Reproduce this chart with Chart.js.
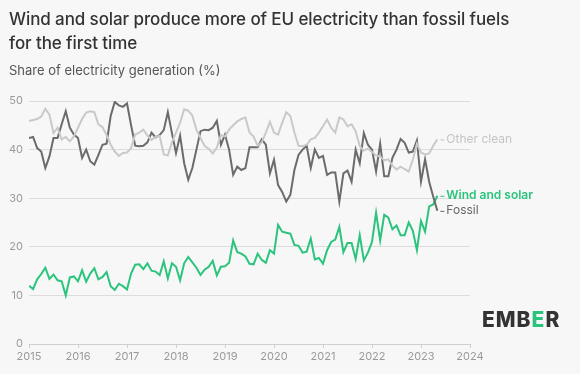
<!DOCTYPE html>
<html>
<head>
<meta charset="utf-8">
<script src="https://cdn.jsdelivr.net/npm/chart.js@4/dist/chart.umd.min.js"></script>
<style>
  html, body { margin: 0; padding: 0; background: #f7f7f7; }
  #wrap { position: relative; width: 580px; height: 374px; overflow: hidden; }
  #title { position: absolute; left: 9px; top: 7px; font: 500 17px Inter, sans-serif; line-height: 24px; color: #333; letter-spacing: -0.1px; }
  #subtitle { position: absolute; left: 9px; top: 62px; font: 400 13px Inter, sans-serif; color: #555; }
  #logo { position: absolute; left: 482px; top: 307px; font: 800 21px Inter, sans-serif; color: #333; letter-spacing: 1px; }
  #logo span { color: #2bc47d; }
  canvas { position: absolute; left: 0; top: 0; }
</style>
</head>
<body>
<div id="wrap">
  <canvas id="chart" width="580" height="374"></canvas>
  <div id="title">Wind and solar produce more of EU electricity than fossil fuels<br>for the first time</div>
  <div id="subtitle">Share of electricity generation (%)</div>
  <div id="logo">EMB<span>E</span>R</div>
</div>
<script>
// monthly shares, Jan 2015 - May 2023
const startYear = 2015;
const yearTicks = [2015, 2016, 2017, 2018, 2019, 2020, 2021, 2022, 2023, 2024];

const otherClean = [
  45.9, 46.1, 46.3, 46.8, 48.4, 47.2, 43.4, 44.5, 42.1, 42.6,
  41.7, 42.7, 44.5, 46.3, 47.6, 47.9, 47.7, 45.2, 44.6, 43.0,
  41.0, 39.6, 38.7, 39.3, 39.4, 40.3, 43.1, 43.5, 44.1, 42.9,
  42.0, 42.6, 42.8, 39.0, 38.8, 41.5, 43.5, 45.5, 48.3, 48.0,
  47.0, 44.1, 42.4, 40.8, 40.2, 39.2, 40.4, 43.0, 42.7, 44.1,
  45.0, 45.8, 46.3, 46.6, 43.5, 42.7, 40.8, 41.5, 43.5, 45.7,
  43.5, 43.1, 45.5, 47.7, 46.9, 43.5, 40.8, 40.7, 41.0, 42.1,
  42.4, 43.5, 44.8, 46.2, 44.5, 43.5, 46.6, 46.2, 44.8, 45.2,
  43.8, 40.7, 39.8, 40.2, 39.5, 38.8, 38.6, 37.8, 38.0, 36.7,
  35.9, 36.5, 36.0, 35.5, 37.9, 41.2, 39.4, 39.0, 39.2, 40.8,
  42.1
];

const fossil = [
  42.4, 42.6, 40.3, 39.6, 36.2, 38.6, 42.4, 42.4, 45.2, 47.9,
  44.5, 43.1, 42.4, 38.3, 40.0, 37.6, 36.9, 38.9, 41.0, 41.2,
  46.9, 49.8, 49.1, 48.8, 49.5, 45.0, 40.8, 40.7, 40.8, 41.5,
  43.5, 42.5, 43.0, 44.0, 47.7, 43.4, 39.3, 42.9, 37.2, 33.8,
  36.2, 40.0, 43.8, 44.1, 44.0, 44.5, 45.9, 41.0, 43.1, 40.0,
  34.8, 36.5, 35.8, 36.2, 40.5, 40.5, 40.5, 42.1, 41.0, 35.1,
  37.9, 32.7, 31.3, 29.3, 30.7, 35.8, 38.9, 40.0, 40.8, 36.2,
  40.0, 38.3, 38.7, 34.8, 35.3, 35.3, 29.3, 35.1, 35.7, 33.4,
  40.0, 37.2, 43.4, 41.0, 40.0, 35.5, 41.2, 34.5, 34.5, 38.3,
  40.0, 42.2, 41.4, 39.4, 39.6, 41.9, 33.4, 38.0, 33.4, 30.3,
  27.4
];

const windSolar = [
  12.0, 11.3, 13.3, 14.4, 15.7, 13.4, 14.3, 13.1, 12.9, 10.0,
  13.7, 13.9, 12.9, 15.2, 12.8, 14.5, 15.6, 13.3, 13.8, 14.8,
  11.9, 11.1, 12.4, 11.9, 11.2, 14.5, 16.3, 16.4, 15.4, 16.6,
  15.1, 14.9, 14.2, 17.0, 13.5, 16.6, 15.9, 13.1, 16.6, 17.9,
  16.8, 15.7, 14.2, 15.3, 15.9, 17.1, 14.1, 15.9, 16.0, 16.7,
  21.3, 18.9, 18.6, 18.0, 16.5, 16.4, 18.6, 17.3, 16.7, 19.3,
  18.6, 24.5, 23.1, 22.9, 22.7, 20.4, 20.2, 18.8, 19.0, 21.7,
  17.4, 17.7, 16.5, 19.3, 21.0, 21.5, 24.1, 18.9, 20.8, 20.8,
  17.5, 22.4, 17.2, 18.8, 21.0, 27.0, 21.3, 26.6, 26.0, 23.6,
  24.4, 22.4, 22.4, 25.0, 23.3, 19.3, 25.3, 23.1, 28.3, 28.7,
  30.5
];

const seriesNames = ["Other clean", "Fossil", "Wind and solar"];
const seriesColors = ["#c9c9c9", "#6b6b6b", "#2bc47d"];
const labelColors = ["#c4c4c4", "#666666", "#2bc47d"];

// month index -> decimal year
function toPoints(values) {
  return values.map((v, i) => ({ x: startYear + i / 12, y: v }));
}

const endLabels = {
  id: "endLabels",
  afterDatasetsDraw(chart) {
    const ctx = chart.ctx;
    ctx.save();
    chart.data.datasets.forEach((ds, i) => {
      const pts = chart.getDatasetMeta(i).data;
      const last = pts[pts.length - 1];
      ctx.strokeStyle = labelColors[i];
      ctx.lineWidth = 1;
      ctx.beginPath();
      ctx.moveTo(last.x + 3, last.y + 0.5);
      ctx.lineTo(last.x + 7, last.y + 0.5);
      ctx.stroke();
      ctx.fillStyle = labelColors[i];
      ctx.font = (i === 2 ? "600 " : "400 ") + "12px Inter, sans-serif";
      ctx.textBaseline = "middle";
      ctx.fillText(seriesNames[i], last.x + 9, last.y);
    });
    ctx.restore();
  }
};

const datasets = [otherClean, fossil, windSolar].map((vals, i) => ({
  label: seriesNames[i],
  data: toPoints(vals),
  borderColor: seriesColors[i],
  borderWidth: 2,
  pointRadius: 0,
  tension: 0,
  fill: false
}));

new Chart(document.getElementById("chart").getContext("2d"), {
  type: "line",
  data: { datasets },
  options: {
    responsive: false,
    animation: false,
    layout: { padding: { top: 101, right: 110, bottom: 10, left: 4 } },
    plugins: { legend: { display: false }, tooltip: { enabled: false } },
    scales: {
      x: {
        type: "linear",
        min: yearTicks[0],
        max: yearTicks[yearTicks.length - 1],
        afterBuildTicks: (s) => { s.ticks = yearTicks.map(v => ({ value: v })); },
        afterFit: (s) => { s.height = 20; },
        grid: { drawOnChartArea: false, drawTicks: true, tickLength: 4, color: "#cfcfcf" },
        border: { display: true, color: "#cfcfcf" },
        ticks: {
          color: "#9a9a9a", font: { family: "Inter", size: 11 }, padding: 2,
          maxRotation: 0, callback: (v) => String(v)
        }
      },
      y: {
        min: 0,
        max: 50,
        afterFit: (s) => { s.width = 25; },
        grid: { color: "#dcdcdc", drawTicks: false },
        border: { display: false },
        ticks: { stepSize: 10, color: "#9a9a9a", font: { family: "Inter", size: 11 }, padding: 6 }
      }
    }
  },
  plugins: [endLabels]
});
</script>
</body>
</html>
